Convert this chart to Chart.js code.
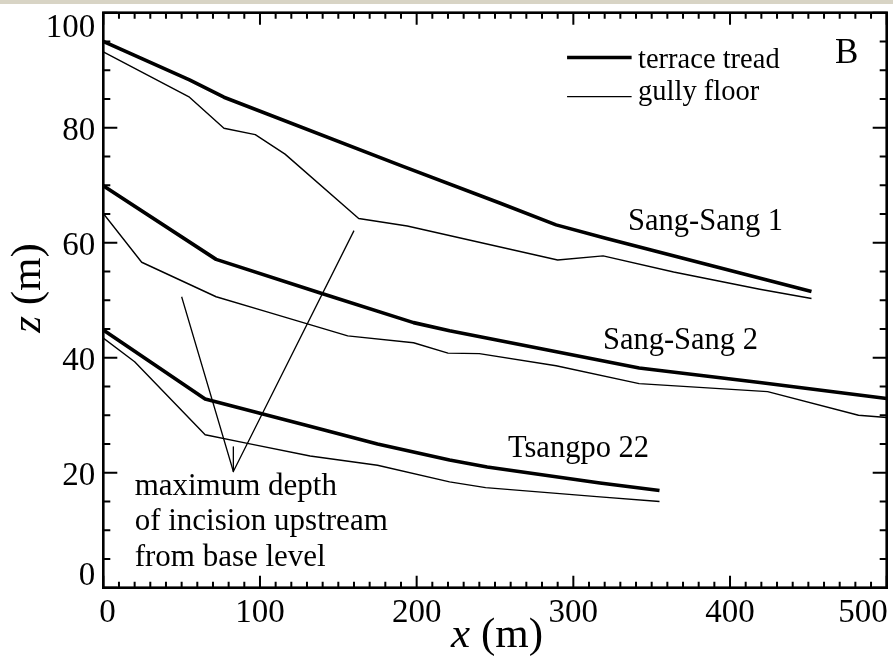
<!DOCTYPE html>
<html><head><meta charset="utf-8">
<script src="https://cdn.jsdelivr.net/npm/chart.js@4.4.1/dist/chart.umd.min.js"></script>
<style>html,body{margin:0;padding:0;background:#fff;}#wrap{width:893px;height:657px;position:relative;}</style>
</head><body><div id="wrap"><canvas id="c" width="893" height="657"></canvas></div>
<script>
// ---- data (x in m, z in m) ----
const ss1TreadX = [0, 55, 77, 190, 253, 289, 320, 452];
const ss1TreadZ = [95.0, 88.3, 85.3, 73.4, 66.9, 63.1, 60.8, 51.5];
const ss1GullyX = [0, 55, 77, 97, 116, 163, 194, 290, 319, 364, 419, 452];
const ss1GullyZ = [93.2, 85.3, 79.9, 78.8, 75.4, 64.2, 62.9, 57.0, 57.7, 54.9, 51.9, 50.3];
const ss2TreadX = [0, 72, 138, 198, 221, 342, 419, 500];
const ss2TreadZ = [69.9, 57.1, 51.3, 46.1, 44.7, 38.2, 35.7, 32.9];
const ss2GullyX = [0, 24.5, 72, 104, 156, 198, 220, 240, 289, 342, 424, 482, 500];
const ss2GullyZ = [65.1, 56.6, 50.6, 48.0, 43.8, 42.6, 40.8, 40.7, 38.6, 35.5, 34.1, 30.0, 29.6];
const ts22TreadX = [0, 65, 130, 175, 221, 245, 317, 355];
const ts22TreadZ = [44.8, 32.8, 28.2, 25.0, 22.2, 21.0, 18.2, 16.9];
const ts22GullyX = [0, 20, 65, 92, 132, 175, 221, 244, 317, 355];
const ts22GullyZ = [43.4, 39.3, 26.6, 25.1, 22.9, 21.3, 18.4, 17.4, 15.8, 15.0];
// annotation pointer lines
const pointerX = [50, 83, 160];
const pointerZ = [50.6, 20.2, 62.1];
const stemX = [83, 83];
const stemZ = [24.5, 20.2];

const xTickValues = [0, 100, 200, 300, 400, 500];
const xTickLabels = ['0', '100', '200', '300', '400', '500'];
const yTickValues = [0, 20, 40, 60, 80, 100];
const yTickLabels = ['0', '20', '40', '60', '80', '100'];
const xMinorStep = 10;
const yMinorStep = 5;
const seriesLabels = ['terrace tread', 'gully floor'];
const profileNames = ['Sang-Sang 1', 'Sang-Sang 2', 'Tsangpo 22'];
const profileLabelAt = [[334.9, 62.2], [318.9, 41.6], [258.3, 22.8]];
const noteLines = ['maximum depth', 'of incision upstream', 'from base level'];
const panelLetter = 'B';

// ---- build ----
const pts = (xs, zs) => xs.map((x, i) => ({ x: x, y: zs[i] }));
const THICK = 3.6, THIN = 1.4;
const SERIF = '"Liberation Serif", "Times New Roman", serif';
function ds(label, xs, zs, w) {
  return { label, data: pts(xs, zs), showLine: true, borderColor: '#000', borderWidth: w,
    pointRadius: 0, pointHoverRadius: 0, tension: 0, fill: false,
    borderJoinStyle: 'round', borderCapStyle: 'butt' };
}
const datasets = [
  ds(profileNames[0] + ' ' + seriesLabels[0], ss1TreadX, ss1TreadZ, THICK),
  ds(profileNames[0] + ' ' + seriesLabels[1], ss1GullyX, ss1GullyZ, THIN),
  ds(profileNames[1] + ' ' + seriesLabels[0], ss2TreadX, ss2TreadZ, THICK),
  ds(profileNames[1] + ' ' + seriesLabels[1], ss2GullyX, ss2GullyZ, THIN),
  ds(profileNames[2] + ' ' + seriesLabels[0], ts22TreadX, ts22TreadZ, THICK),
  ds(profileNames[2] + ' ' + seriesLabels[1], ts22GullyX, ts22GullyZ, THIN),
  ds('pointer', pointerX, pointerZ, 1.3),
  ds('pointer stem', stemX, stemZ, 1.3)
];

const framePlugin = {
  id: 'frame',
  beforeDraw(chart) {
    const ctx = chart.ctx;
    ctx.save();
    ctx.fillStyle = '#fff';
    ctx.fillRect(0, 0, chart.width, chart.height);
    ctx.fillStyle = 'rgb(216,212,197)';
    ctx.fillRect(0, 0, chart.width, 4);
    ctx.restore();
  },
  afterDatasetsDraw(chart) {
    const ctx = chart.ctx;
    const xs = chart.scales.x, ys = chart.scales.y;
    const a = chart.chartArea;
    const P = (x, z) => [xs.getPixelForValue(x), ys.getPixelForValue(z)];
    ctx.save();
    ctx.strokeStyle = '#000';
    ctx.fillStyle = '#000';
    // frame
    ctx.lineWidth = 2.6;
    ctx.strokeRect(a.left, a.top, a.right - a.left, a.bottom - a.top);
    // ticks
    ctx.lineWidth = 2;
    ctx.beginPath();
    for (let v = xs.min; v <= xs.max + 1e-6; v += xMinorStep) {
      const px = xs.getPixelForValue(v);
      const len = xTickValues.includes(Math.round(v)) ? 12 : 6;
      ctx.moveTo(px, a.bottom); ctx.lineTo(px, a.bottom - len);
      ctx.moveTo(px, a.top); ctx.lineTo(px, a.top + len);
    }
    for (let v = ys.min; v <= ys.max + 1e-6; v += yMinorStep) {
      const py = ys.getPixelForValue(v);
      const len = yTickValues.includes(Math.round(v)) ? 14 : 7;
      ctx.moveTo(a.left, py); ctx.lineTo(a.left + len, py);
      ctx.moveTo(a.right, py); ctx.lineTo(a.right - len, py);
    }
    ctx.stroke();
    // tick labels
    ctx.font = '33px ' + SERIF;
    ctx.textBaseline = 'alphabetic';
    ctx.textAlign = 'right';
    yTickValues.forEach((v, i) => {
      let b = ys.getPixelForValue(v) + 12;
      b = Math.max(b, a.top + 24);
      b = Math.min(b, a.bottom - 2.5);
      ctx.fillText(yTickLabels[i], a.left - 8, b);
    });
    ctx.textAlign = 'center';
    xTickValues.forEach((v, i) => {
      const w = ctx.measureText(xTickLabels[i]).width;
      let cx = xs.getPixelForValue(v);
      cx = Math.max(cx, a.left + w / 2 - 4);
      cx = Math.min(cx, a.right - w / 2 + 1);
      ctx.fillText(xTickLabels[i], cx, a.bottom + 34);
    });
    // axis titles
    function mixed(parts, cx, by) {
      let total = 0;
      parts.forEach(p => { ctx.font = p[1]; total += ctx.measureText(p[0]).width; });
      let x = cx - total / 2;
      ctx.textAlign = 'left';
      parts.forEach(p => { ctx.font = p[1]; ctx.fillText(p[0], x, by); x += ctx.measureText(p[0]).width; });
    }
    const it = 'italic 43px ' + SERIF, rg = '43px ' + SERIF;
    mixed([['x', it], [' (m)', rg]], 497, 647);
    ctx.save();
    ctx.translate(40, 288);
    ctx.rotate(-Math.PI / 2);
    mixed([['z', it], [' (m)', rg]], 0, 0);
    ctx.restore();
    // profile labels
    ctx.font = '30.5px ' + SERIF;
    ctx.textAlign = 'left';
    profileNames.forEach((n, i) => {
      const p = P(profileLabelAt[i][0], profileLabelAt[i][1]);
      ctx.fillText(n, p[0], p[1]);
    });
    // note
    ctx.font = '31px ' + SERIF;
    const noteY = [16.1, 9.95, 3.8];
    noteLines.forEach((t, i) => { const p = P(20, noteY[i]); ctx.fillText(t, p[0], p[1]); });
    // panel letter
    ctx.font = '35px ' + SERIF;
    let p = P(467, 91.2);
    ctx.fillText(panelLetter, p[0], p[1]);
    // legend
    const legendRows = [[92.2, 90.4, THICK], [85.4, 84.8, THIN]];
    ctx.font = '28.5px ' + SERIF;
    seriesLabels.forEach((lab, i) => {
      const r = legendRows[i];
      const l0 = P(296, r[0]), l1 = P(337.2, r[0]);
      ctx.lineWidth = r[2];
      ctx.beginPath(); ctx.moveTo(l0[0], l0[1]); ctx.lineTo(l1[0], l1[1]); ctx.stroke();
      const tp = P(341.3, r[1]);
      ctx.fillText(lab, tp[0], tp[1]);
    });
    ctx.restore();
  }
};

new Chart(document.getElementById('c'), {
  type: 'scatter',
  data: { datasets },
  options: {
    responsive: false,
    animation: false,
    devicePixelRatio: 1,
    layout: { padding: { left: 103.3, top: 12.7, right: 6.3, bottom: 69.3 } },
    plugins: { legend: { display: false }, tooltip: { enabled: false } },
    scales: {
      x: { type: 'linear', min: 0, max: 500, display: false },
      y: { type: 'linear', min: 0, max: 100, display: false }
    }
  },
  plugins: [framePlugin]
});
</script>
</body></html>
